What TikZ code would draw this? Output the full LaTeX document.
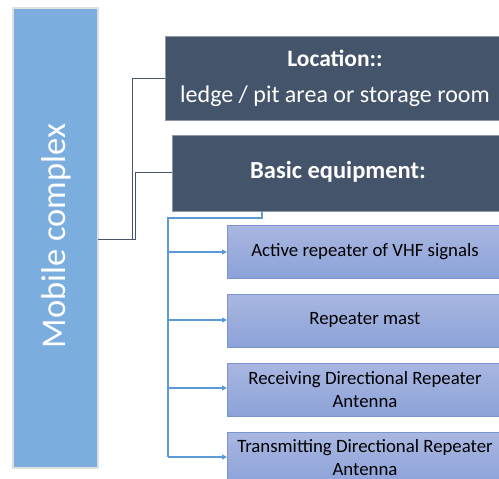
\documentclass[tikz,border=0pt]{standalone}
\usepackage{fontspec}
\setmainfont{Carlito}
\usetikzlibrary{arrows.meta}
\definecolor{darkbox}{HTML}{44546A}
\definecolor{mobfill}{HTML}{7BAEDE}
\definecolor{childtop}{HTML}{A9B7E1}
\definecolor{childbot}{HTML}{8CA2D8}
\definecolor{childborder}{HTML}{7C95D0}
\definecolor{bluelink}{HTML}{5B9BD5}
\tikzset{
  x=1pt,y=-1pt,
  darkrect/.style={fill=darkbox,draw=darkbox!60!white,line width=0.6pt},
  childrect/.style={top color=childtop,bottom color=childbot,draw=childborder,line width=0.8pt},
  txtw/.style={text=white,inner sep=0pt},
  txtc/.style={text=black,font=\fontsize{18.8}{23}\selectfont,align=center,inner sep=0pt},
  darklink/.style={draw=darkbox,line width=0.8pt},
  bluelinkst/.style={draw=bluelink,line width=1.6pt},
  bluearrow/.style={draw=bluelink,line width=1.6pt,-{Triangle[length=5pt,width=5pt]}}
}
\begin{document}
\begin{tikzpicture}
\useasboundingbox (0,0) rectangle (499,479);
\clip (0,0) rectangle (499,479);
% mobile complex
\draw[fill=mobfill,draw=black!12,line width=1.5pt] (13,8) rectangle (98,468);
\node[txtw,rotate=90,font=\fontsize{34.5}{38}\selectfont] (mob) at (56,236) {Mobile complex};
\coordinate (mobr) at (98,239);
% location
\path[darkrect] (165,36) rectangle (506,120);
\coordinate (locl) at (165,78);
\node[txtw,font=\bfseries\fontsize{23.5}{26}\selectfont] (loct) at (335,58) {Location::};
\node[txtw,font=\fontsize{24}{26}\selectfont] (locs) at (335,96) {ledge / pit area or storage room};
% basic equipment
\path[darkrect] (172,135) rectangle (506,211);
\coordinate (basl) at (172,172);
\coordinate (basb) at (262,211);
\node[txtw,font=\bfseries\fontsize{24.5}{26}\selectfont] (bast) at (338,172) {Basic equipment:};
% dark connectors
\path[darklink] (mobr) -| (132,78) -- (locl);
\path[darklink] (mobr) -| (135,172) -- (basl);
% child boxes
\path[childrect] (227,225) rectangle (506,278);
\path[childrect] (227,294) rectangle (506,347);
\path[childrect] (227,363) rectangle (506,416);
\path[childrect] (227,432) rectangle (506,485);
\node[txtc] (c1) at (365,252) {Active repeater of VHF signals};
\node[txtc] (c2) at (365,320) {Repeater mast};
\node[txtc] (c3) at (365,389.5) {Receiving Directional Repeater\\Antenna};
\node[txtc] (c4) at (365,457.5) {Transmitting Directional Repeater\\Antenna};
\coordinate (a1) at (227,252);
\coordinate (a2) at (227,320);
\coordinate (a3) at (227,388);
\coordinate (a4) at (227,457);
% blue bracket
\path[bluelinkst] (basb) -- (262,218) -- (168,218) -- (168,457);
\path[bluearrow] (168,252) -- (a1);
\path[bluearrow] (168,320) -- (a2);
\path[bluearrow] (168,388) -- (a3);
\path[bluearrow] (168,457) -- (a4);
\end{tikzpicture}
\end{document}
